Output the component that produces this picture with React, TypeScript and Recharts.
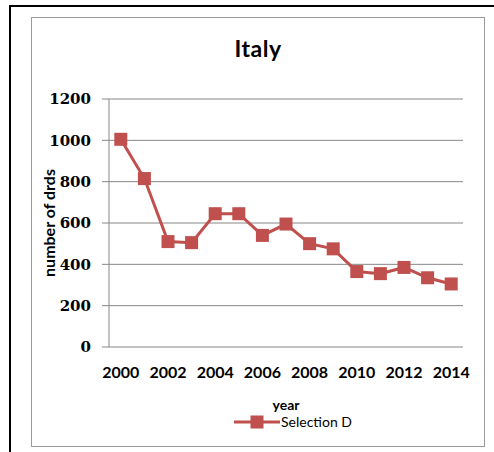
import React from "react"
import { LineChart, Line, XAxis, YAxis, CartesianGrid, Legend, Label } from "recharts"

const years = [2000, 2001, 2002, 2003, 2004, 2005, 2006, 2007, 2008, 2009, 2010, 2011, 2012, 2013, 2014]
const drds = [1005, 815, 510, 505, 645, 645, 540, 595, 500, 475, 365, 355, 385, 335, 305]
const yTicks = [0, 200, 400, 600, 800, 1000, 1200]
const yearLabels = [2000, 2002, 2004, 2006, 2008, 2010, 2012, 2014]
const seriesName = "Selection D"

const RED = "#C0504D"
const GRID = "#868686"
const FONT = "Lato, 'Open Sans', sans-serif"
const SERIF = "'DejaVu Serif', serif"

// tick marks sit on the boundaries between years
const edges = [...years.map((y) => y - 0.5), years[years.length - 1] + 0.5]
const domain = [edges[0], edges[edges.length - 1]]

const data = years.map((year, i) => ({ year, value: drds[i] }))

const SquareDot = (props: any) => {
  const { cx, cy, index } = props
  if (cx == null || cy == null) return null
  return <rect key={`dot-${index}`} x={cx - 6.5} y={cy - 6.5} width={13} height={13} fill={RED} />
}

const LegendContent = () => (
  <div style={{ position: "relative", height: 20, fontFamily: FONT }}>
    <svg width={46} height={20} style={{ position: "absolute", left: 234, top: 0 }}>
      <line x1={0} y1={10} x2={46} y2={10} stroke={RED} strokeWidth={3} />
      <rect x={16.5} y={3.5} width={13} height={13} fill={RED} />
    </svg>
    <span style={{ position: "absolute", left: 281, top: 1, fontSize: 14, lineHeight: "18px", color: "#000" }}>
      {seriesName}
    </span>
  </div>
)

export default function App() {
  return (
    <div style={{ position: "absolute", left: 0, top: 0, width: 494, height: 452, background: "#fff", overflow: "hidden" }}>
      <div style={{ position: "absolute", left: 9, top: 5, width: 600, height: 600, borderLeft: "2px solid #000", borderTop: "2px solid #000" }} />
      <div style={{ position: "absolute", left: 31, top: 17, width: 452, height: 428, border: "1px solid #9a9a9a" }} />
      <div
        style={{
          position: "absolute",
          left: 31,
          top: 37,
          width: 454,
          textAlign: "center",
          fontFamily: FONT,
          fontWeight: 700,
          fontSize: 23,
          lineHeight: "22px",
          letterSpacing: 0.5,
          color: "#000",
        }}
      >
        Italy
      </div>
      <div style={{ position: "absolute", left: 0, top: 0 }}>
        <LineChart width={494} height={452} data={data} margin={{ top: 99, right: 31, left: 0, bottom: 20 }}>
          <CartesianGrid xAxisId="year" horizontal vertical={false} stroke={GRID} />
          <XAxis
            xAxisId="edge"
            type="number"
            dataKey="year"
            domain={domain}
            ticks={edges}
            tickFormatter={() => ""}
            tickSize={7}
            height={0}
            stroke={GRID}
            tickLine={{ stroke: GRID }}
            allowDecimals
          />
          <XAxis
            xAxisId="year"
            type="number"
            dataKey="year"
            domain={domain}
            ticks={yearLabels}
            interval={0}
            axisLine={false}
            tickLine={false}
            tickSize={7}
            tickMargin={13}
            height={65}
            tick={{ fill: "#000", fontSize: 16, fontWeight: 700, fontFamily: FONT }}
          >
            <Label value="year" position="insideBottom" offset={2} fill="#000" fontSize={14} fontWeight={700} fontFamily={FONT} />
          </XAxis>
          <YAxis
            domain={[0, 1200]}
            ticks={yTicks}
            width={109}
            tickSize={7}
            tickMargin={11}
            stroke={GRID}
            tick={{ fill: "#000", fontSize: 15, fontWeight: 700, fontFamily: SERIF }}
          >
            <Label
              content={(props: any) => {
                const vb = props.viewBox || {}
                const cx = 48
                const cy = vb.y + vb.height / 2
                return (
                  <text
                    x={cx}
                    y={cy}
                    transform={`rotate(-90 ${cx} ${cy})`}
                    textAnchor="middle"
                    dominantBaseline="central"
                    fill="#000"
                    fontSize={16}
                    fontWeight={700}
                    fontFamily={FONT}
                  >
                    number of drds
                  </text>
                )
              }}
            />
          </YAxis>
          <Line
            xAxisId="year"
            type="linear"
            dataKey="value"
            name={seriesName}
            stroke={RED}
            strokeWidth={3}
            dot={SquareDot}
            activeDot={false}
            isAnimationActive={false}
          />
          <Legend verticalAlign="bottom" height={20} wrapperStyle={{ left: 0, width: 494 }} content={LegendContent} />
        </LineChart>
      </div>
    </div>
  )
}
